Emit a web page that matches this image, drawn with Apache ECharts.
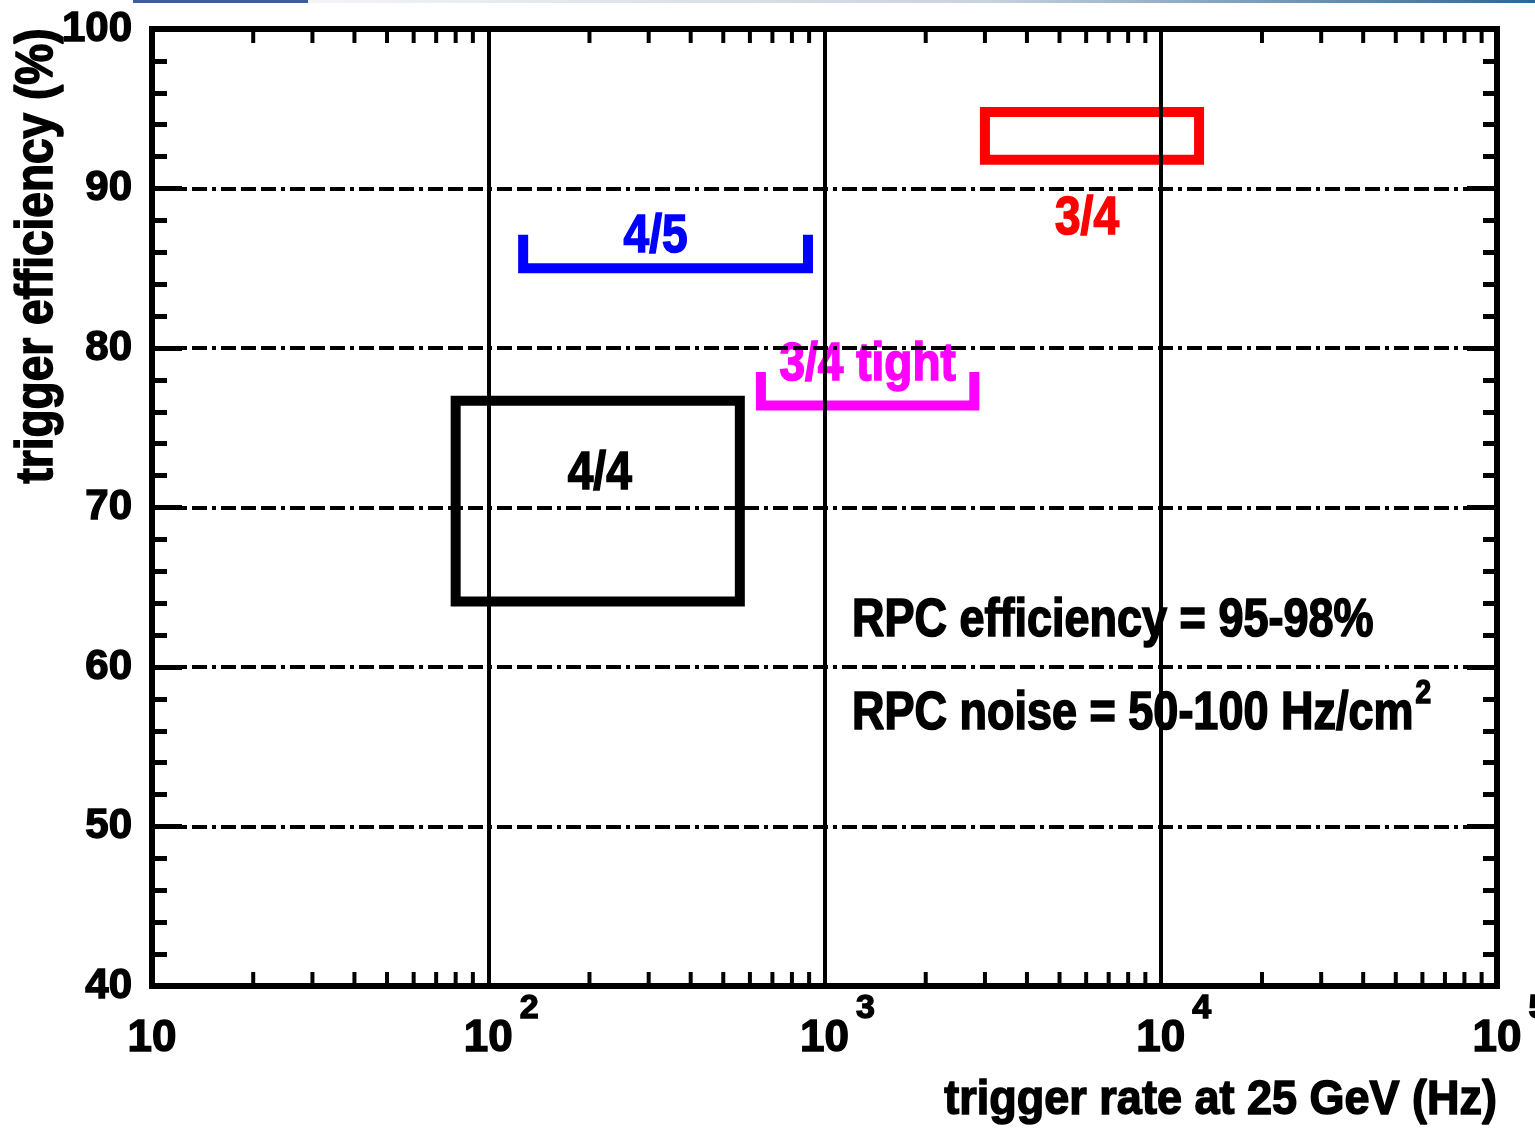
<!DOCTYPE html>
<html>
<head>
<meta charset="utf-8">
<script src="https://cdn.jsdelivr.net/npm/echarts@6/dist/echarts.min.js"></script>
<style>
  html, body { margin: 0; padding: 0; background: #fff; }
  #chart { width: 1535px; height: 1130px; }
</style>
</head>
<body>
<div id="chart"></div>
<script>
// ---------------- data ----------------
const rateMin = 10, rateMax = 100000;          // trigger rate axis (Hz), log
const effMin = 40, effMax = 100, effStep = 10; // trigger efficiency axis (%)

// rectangles (rate range x efficiency range)
const boxNames    = ['4/4', '3/4'];
const boxRateLow  = [80, 3000];
const boxRateHigh = [560, 13000];
const boxEffLow   = [64.1, 91.8];
const boxEffHigh  = [76.7, 94.8];

// brackets (rate range at an efficiency, with end marks up to effTop)
const bracketNames    = ['4/5', '3/4 tight'];
const bracketRateLow  = [127, 647];
const bracketRateHigh = [893, 2790];
const bracketEff      = [85.0, 76.4];
const bracketEffTop   = [87.1, 78.5];

// log minor tick positions (2..9 per decade)
const decadeStarts = [10, 100, 1000, 10000];
const minorSteps   = [2, 3, 4, 5, 6, 7, 8, 9];

const noteEfficiency = 'RPC efficiency = 95-98%';
const noteNoise      = 'RPC noise = 50-100 Hz/cm';
const noteNoiseSup   = '2';
const xTitle = 'trigger rate at 25 GeV (Hz)';
const yTitle = 'trigger efficiency (%)';

// ---------------- styles ----------------
const FONT = '"Liberation Sans", Arial, Helvetica, sans-serif';
const HEAVY = 1.4; // text outline to mimic the heavy bold face
const markStyle = {
  '4/4':       { color: '#000000', anchor: 'top',    dx: 2,   dy: 73 },
  '3/4':       { color: '#ff0000', anchor: 'bottom', dx: -5,  dy: 59 },
  '4/5':       { color: '#0000ff', dx: -10, dy: -31 },
  '3/4 tight': { color: '#ff00ff', dx: 0,   dy: -40 }
};

const minorTicks = [];
decadeStarts.forEach(d => minorSteps.forEach(m => minorTicks.push([d * m, effMin])));

function labelEl(name, x, y, color) {
  return {
    type: 'text', x: x, y: y, scaleY: 1.18,
    style: {
      text: name, fill: color, stroke: color, lineWidth: HEAVY,
      fontSize: 46, fontWeight: 'bold', fontFamily: FONT,
      align: 'center', verticalAlign: 'middle'
    }
  };
}

const chart = echarts.init(document.getElementById('chart'), null, { renderer: 'canvas' });

const tickFont = { fontWeight: 'bold', fontFamily: FONT, color: '#000',
                   textBorderColor: '#000', textBorderWidth: HEAVY };

const option = {
  backgroundColor: '#ffffff',
  animation: false,
  grid: {
    left: 152, right: 38, top: 29, bottom: 144,
    show: true, borderColor: '#000', borderWidth: 6, backgroundColor: 'transparent',
    outerBoundsMode: 'none', containLabel: false
  },
  xAxis: [{
    type: 'log', logBase: 10, min: rateMin, max: rateMax, position: 'bottom', z: 5,
    axisLine: { show: false },
    axisTick: { show: false },
    minorTick: { show: false },
    splitLine: { show: true, lineStyle: { color: '#000', width: 4, type: 'solid' } },
    axisLabel: {
      show: true, margin: 6, showMinLabel: true, showMaxLabel: true, hideOverlap: false,
      formatter: function (v) {
        const e = Math.round(Math.log10(v));
        if (e === 1) return '{p|10}';
        return '{b|10}{s|' + e + '}';
      },
      rich: {
        b: Object.assign({ fontSize: 44, verticalAlign: 'bottom', padding: [0, 0, 0, 26] }, tickFont),
        s: Object.assign({ fontSize: 34, lineHeight: 69, verticalAlign: 'top', padding: [0, 0, 0, 7] }, tickFont),
        p: Object.assign({ fontSize: 44, lineHeight: 69, verticalAlign: 'bottom' }, tickFont)
      }
    }
  }],
  yAxis: [{
    type: 'value', min: effMin, max: effMax, interval: effStep, position: 'left', z: 5,
    axisLine: { show: false },
    axisTick: { show: true, inside: true, length: 30, lineStyle: { color: '#000', width: 5 } },
    minorTick: { show: true, splitNumber: 5, length: 15, lineStyle: { color: '#000', width: 5 } },
    splitLine: { show: true, lineStyle: { color: '#000', width: 4, type: [15, 5, 15, 5, 15, 5, 4, 5] } },
    axisLabel: Object.assign({ show: true, margin: 20, fontSize: 42,
                               showMinLabel: true, showMaxLabel: true }, tickFont)
  }, {
    type: 'value', min: effMin, max: effMax, interval: effStep, position: 'right', z: 5,
    axisLine: { show: false },
    axisTick: { show: true, inside: true, length: 30, lineStyle: { color: '#000', width: 5 } },
    minorTick: { show: true, splitNumber: 5, length: 14, lineStyle: { color: '#000', width: 5 } },
    splitLine: { show: false },
    axisLabel: { show: false }
  }],
  series: [{
    type: 'custom', name: 'boxes', xAxisIndex: 0, yAxisIndex: 0, z: 2, silent: true,
    encode: { x: [0, 1], y: [2, 3] },
    data: boxNames.map((n, i) => [boxRateLow[i], boxRateHigh[i], boxEffLow[i], boxEffHigh[i]]),
    renderItem: function (params, api) {
      const name = boxNames[params.dataIndex];
      const st = markStyle[name];
      const p1 = api.coord([api.value(0), api.value(3)]);
      const p2 = api.coord([api.value(1), api.value(2)]);
      const cx = (p1[0] + p2[0]) / 2 + st.dx;
      const ay = (st.anchor === 'top' ? p1[1] : p2[1]) + st.dy;
      return {
        type: 'group',
        children: [{
          type: 'rect',
          shape: { x: p1[0], y: p1[1], width: p2[0] - p1[0], height: p2[1] - p1[1] },
          style: { fill: 'none', stroke: st.color, lineWidth: 10, lineJoin: 'miter' }
        }, labelEl(name, cx, ay, st.color)]
      };
    }
  }, {
    type: 'custom', name: 'brackets', xAxisIndex: 0, yAxisIndex: 0, z: 2, silent: true,
    encode: { x: [0, 1], y: [2, 3] },
    data: bracketNames.map((n, i) => [bracketRateLow[i], bracketRateHigh[i], bracketEff[i], bracketEffTop[i]]),
    renderItem: function (params, api) {
      const name = bracketNames[params.dataIndex];
      const st = markStyle[name];
      const a = api.coord([api.value(0), api.value(3)]);
      const b = api.coord([api.value(0), api.value(2)]);
      const c = api.coord([api.value(1), api.value(2)]);
      const d = api.coord([api.value(1), api.value(3)]);
      return {
        type: 'group',
        children: [{
          type: 'polyline',
          shape: { points: [a, b, c, d] },
          style: { fill: null, stroke: st.color, lineWidth: 10, lineJoin: 'miter', lineCap: 'butt' }
        }, labelEl(name, (b[0] + c[0]) / 2 + st.dx, b[1] + st.dy, st.color)]
      };
    }
  }, {
    type: 'custom', name: 'minorTicks', xAxisIndex: 0, yAxisIndex: 0, z: 6, silent: true,
    encode: { x: 0, y: 1 },
    data: minorTicks,
    renderItem: function (params, api) {
      const v = api.value(0);
      const bt = api.coord([v, effMin]);
      const tp = api.coord([v, effMax]);
      const ls = { stroke: '#000', lineWidth: 4 };
      return {
        type: 'group',
        children: [
          { type: 'line', shape: { x1: bt[0], y1: bt[1], x2: bt[0], y2: bt[1] - 14 }, style: ls },
          { type: 'line', shape: { x1: tp[0], y1: tp[1], x2: tp[0], y2: tp[1] + 14 }, style: ls }
        ]
      };
    }
  }],
  graphic: [
    { type: 'rect', left: 133, top: 0, shape: { width: 175, height: 3 }, style: { fill: '#3f5d9e' }, silent: true },
    { type: 'rect', left: 308, top: 0, shape: { width: 1227, height: 3 }, silent: true,
      style: { fill: new echarts.graphic.LinearGradient(0, 0, 1, 0, [
        { offset: 0, color: '#f3f4f6' }, { offset: 0.55, color: '#c9d3de' }, { offset: 1, color: '#2a6799' }
      ]) } },
    { type: 'text', x: 38, y: 256, rotation: Math.PI / 2, scaleY: 1.12, silent: true,
      style: { text: yTitle, fill: '#000', stroke: '#000', lineWidth: HEAVY,
               fontSize: 46, fontWeight: 'bold', fontFamily: FONT,
               align: 'center', verticalAlign: 'middle' } },
    { type: 'text', x: 1497, y: 1101, scaleY: 1.08, silent: true,
      style: { text: xTitle, fill: '#000', stroke: '#000', lineWidth: HEAVY,
               fontSize: 45, fontWeight: 'bold', fontFamily: FONT,
               align: 'right', verticalAlign: 'middle' } },
    { type: 'text', x: 852, y: 621, scaleY: 1.2, silent: true,
      style: { text: noteEfficiency, fill: '#000', stroke: '#000', lineWidth: HEAVY,
               fontSize: 45, fontWeight: 'bold', fontFamily: FONT,
               align: 'left', verticalAlign: 'middle' } },
    { type: 'text', x: 852, y: 714, scaleY: 1.2, silent: true,
      style: {
        text: '{m|' + noteNoise + '}{s|' + noteNoiseSup + '}',
        align: 'left', verticalAlign: 'middle',
        rich: {
          m: { fontSize: 45, fontWeight: 'bold', fontFamily: FONT, fill: '#000',
               stroke: '#000', lineWidth: HEAVY, lineHeight: 61 },
          s: { fontSize: 28, fontWeight: 'bold', fontFamily: FONT, fill: '#000',
               stroke: '#000', lineWidth: HEAVY, lineHeight: 28,
               verticalAlign: 'top', padding: [0, 0, 0, 2] }
        }
      } }
  ]
};

chart.setOption(option);
</script>
</body>
</html>
